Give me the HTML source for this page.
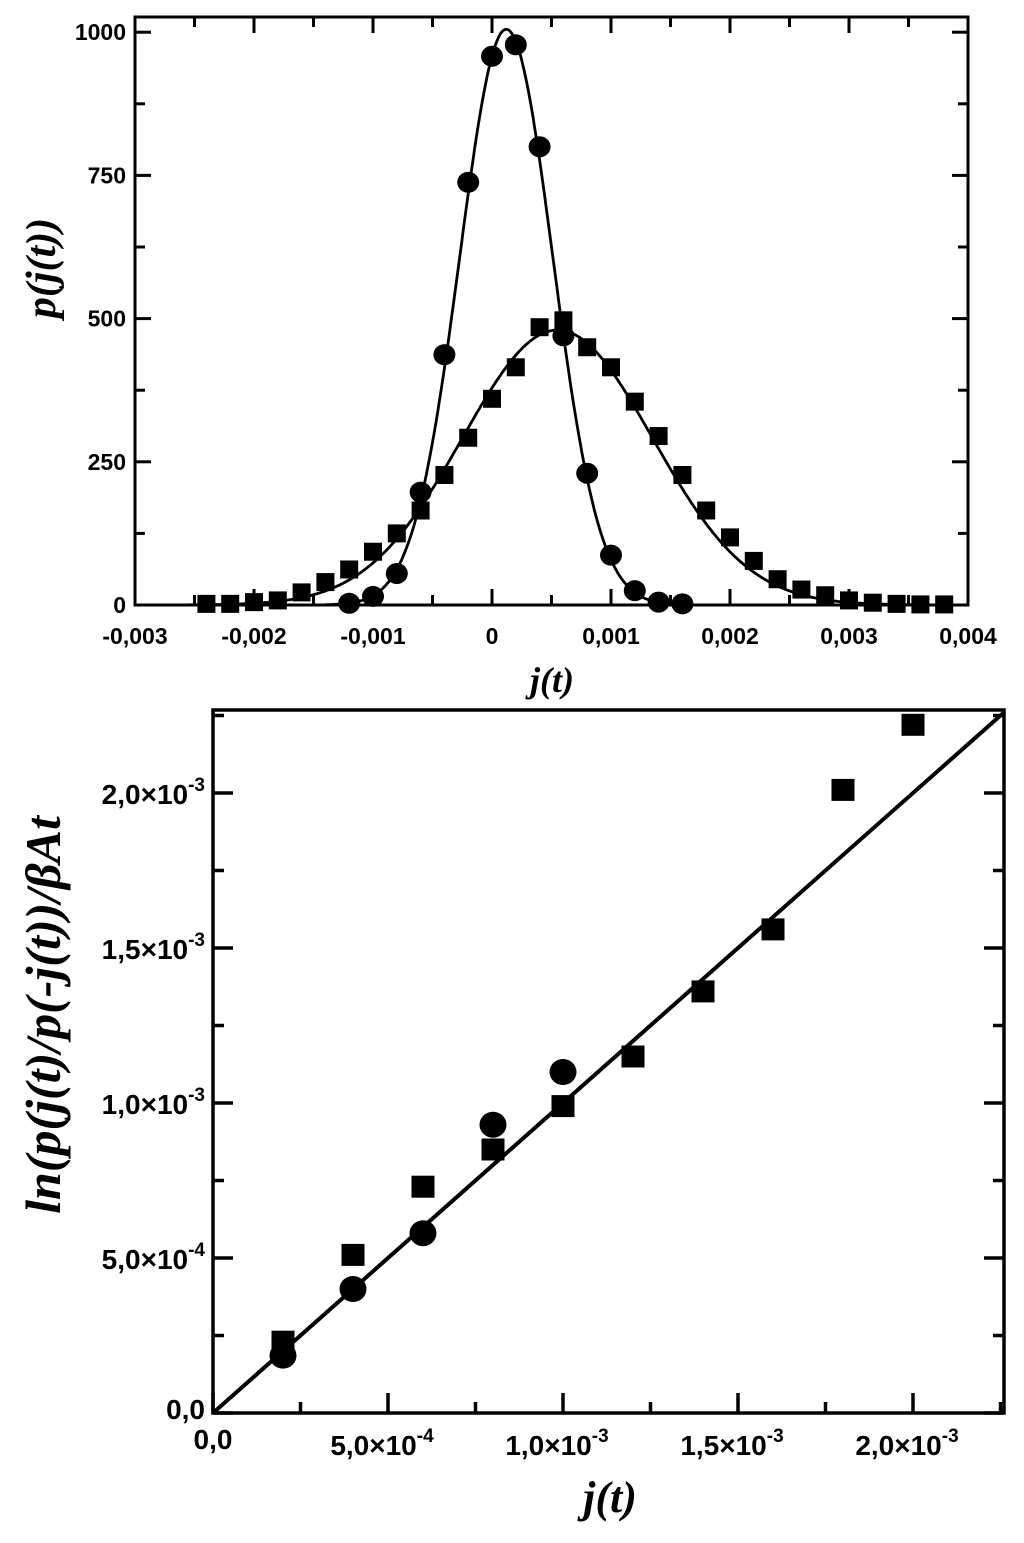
<!DOCTYPE html>
<html><head><meta charset="utf-8"><style>
body{margin:0;background:#fff;}
svg{display:block;}
text{fill:#000;}
.tk{font-family:"Liberation Sans",sans-serif;font-weight:bold;font-size:23px;}
.tk2{font-family:"Liberation Sans",sans-serif;font-weight:bold;font-size:28px;}
.lab{font-family:"Liberation Serif",serif;font-style:italic;font-weight:bold;}
</style></head><body>
<svg id="svg" width="1024" height="1543" xmlns="http://www.w3.org/2000/svg"></svg>
<script>
// Top chart data
const topCircX=[-0.0012,-0.001,-0.0008,-0.0006,-0.0004,-0.0002,0,0.0002,0.0004,0.0006,0.0008,0.001,0.0012,0.0014,0.0016];
const topCircY=[3,15,55,197,437,738,958,978,800,470,230,87,25,5,2];
const topSqX=[-0.0024,-0.0022,-0.002,-0.0018,-0.0016,-0.0014,-0.0012,-0.001,-0.0008,-0.0006,-0.0004,-0.0002,0,0.0002,0.0004,0.0006,0.0008,0.001,0.0012,0.0014,0.0016,0.0018,0.002,0.0022,0.0024,0.0026,0.0028,0.003,0.0032,0.0034,0.0036,0.0038];
const topSqY=[2,2,5,8,22,40,62,93,125,165,227,292,360,415,485,497,450,415,355,295,227,165,118,77,45,27,17,8,4,2,1,1];
const fitCirc=[1005,0.00012,0.00039];
const fitSq=[480,0.00055,0.00080];
const topXTicks=[-0.003,-0.002,-0.001,0,0.001,0.002,0.003,0.004];
const topXTickLabels=["-0,003","-0,002","-0,001","0","0,001","0,002","0,003","0,004"];
const topYTicks=[0,250,500,750,1000];
// Bottom chart data
const botCircX=[0.0002,0.0004,0.0006,0.0008,0.001];
const botCircY=[0.000185,0.0004,0.00058,0.00093,0.0011];
const botSqX=[0.0002,0.0004,0.0006,0.0008,0.001,0.0012,0.0014,0.0016,0.0018,0.002];
const botSqY=[0.00023,0.00051,0.00073,0.00085,0.00099,0.00115,0.00136,0.00156,0.00201,0.00222];
const botTicks=[0,0.0005,0.001,0.0015,0.002];
const botTickMant=["0,0","5,0","1,0","1,5","2,0"];
const botTickExp=["","-4","-3","-3","-3"];

const NS="http://www.w3.org/2000/svg";
const svg=document.getElementById('svg');
function el(tag,attrs,parent){const e=document.createElementNS(NS,tag);for(const k in attrs)e.setAttribute(k,attrs[k]);(parent||svg).appendChild(e);return e;}

// ---------- top chart ----------
const T={l:135,r:968,t:17,b:605};
const tx=v=>135+(v+0.003)/0.007*833;
const ty=v=>605-v*0.5728;
const g1=el('g',{});


for(let v=-0.003;v<=0.00401;v+=0.0005){const x=tx(v);const maj=Math.abs(v*1000-Math.round(v*1000))<1e-6;const L=maj?16:10;
 el('line',{x1:x,y1:T.b,x2:x,y2:T.b-L,stroke:'#000','stroke-width':3},g1);
 el('line',{x1:x,y1:T.t,x2:x,y2:T.t+L,stroke:'#000','stroke-width':3},g1);}
for(let v=0;v<=1000;v+=125){const y=ty(v);const L=(v%250===0)?16:10;
 el('line',{x1:T.l,y1:y,x2:T.l+L,y2:y,stroke:'#000','stroke-width':3},g1);
 el('line',{x1:T.r,y1:y,x2:T.r-L,y2:y,stroke:'#000','stroke-width':3},g1);}
topXTicks.forEach((v,i)=>{const t=el('text',{x:tx(v),y:644,'text-anchor':'middle',class:'tk'},g1);t.textContent=topXTickLabels[i];
 
 });
topYTicks.forEach(v=>{const t=el('text',{x:126,y:ty(v)+8,'text-anchor':'end',class:'tk'},g1);t.textContent=v;
 
 });
function gaussPath(p,x0,x1){let d='';for(let i=0;i<=400;i++){const x=x0+(x1-x0)*i/400;const y=p[0]*Math.exp(-Math.pow(x-p[1],2)/(2*p[2]*p[2]));d+=(i?'L':'M')+tx(x).toFixed(1)+' '+ty(y).toFixed(1);}return d;}
const f1=el('path',{d:gaussPath(fitCirc,-0.0014,0.0016),fill:'none',stroke:'#000','stroke-width':2.8},g1);


const f2=el('path',{d:gaussPath(fitSq,-0.0027,0.0039),fill:'none',stroke:'#000','stroke-width':2.8},g1);


topSqX.forEach((v,i)=>{const r=el('rect',{x:tx(v)-9,y:ty(topSqY[i])-9,width:18,height:18,fill:'#000'},g1);
 
 });
topCircX.forEach((v,i)=>{const c=el('ellipse',{cx:tx(v),cy:ty(topCircY[i]),rx:11,ry:10.5,fill:'#000'},g1);
 
 });
const fr1=el('rect',{x:T.l,y:T.t,width:T.r-T.l,height:T.b-T.t,fill:'none',stroke:'#000','stroke-width':3},g1);


const xl1=el('text',{x:552,y:692,'text-anchor':'middle',class:'lab','font-size':36},g1);xl1.textContent='j(t)';


const yl1=el('text',{x:0,y:0,'text-anchor':'middle',class:'lab','font-size':42,transform:'translate(55,268) rotate(-90)'},g1);yl1.textContent='p(j(t))';



// ---------- bottom chart ----------
const B={l:213,r:1004,t:710,b:1413};
const bx=v=>213+v*350000;
const by=v=>1413-v*310000;
const g2=el('g',{});


for(let k=0;k<=9;k++){const v=k*0.00025;const x=bx(v);const L=k%2===0?20:11;
 el('line',{x1:x,y1:B.b,x2:x,y2:B.b-L,stroke:'#000','stroke-width':3.5},g2);
 const y=by(v);el('line',{x1:B.l,y1:y,x2:B.l+L,y2:y,stroke:'#000','stroke-width':3.5},g2);
 el('line',{x1:B.r,y1:y,x2:B.r-L,y2:y,stroke:'#000','stroke-width':3.5},g2);}
botTicks.forEach((v,i)=>{
 const t=el('text',{x:bx(v)+(i?-6:0),y:1455,'text-anchor':'middle',class:'tk2'},g2);
 
 
 if(i===0){t.setAttribute('y',1449);t.textContent=botTickMant[i];}
 else{t.innerHTML=botTickMant[i]+'×10<tspan dy="-13" font-size="19">'+botTickExp[i]+'</tspan>';}
 const u=el('text',{x:B.l-8,y:by(v)+(i?11:6),'text-anchor':'end',class:'tk2'},g2);
 
 
 if(i===0)u.textContent=botTickMant[i];
 else u.innerHTML=botTickMant[i]+'×10<tspan dy="-13" font-size="19">'+botTickExp[i]+'</tspan>';
});
const ln=el('line',{x1:bx(0),y1:by(0),x2:bx(0.00226),y2:by(0.00226*1.0),stroke:'#000','stroke-width':4},g2);


botSqX.forEach((v,i)=>{const r=el('rect',{x:bx(v)-11.5,y:by(botSqY[i])-11,width:23,height:22,fill:'#000'},g2);
 
 });
botCircX.forEach((v,i)=>{const c=el('ellipse',{cx:bx(v),cy:by(botCircY[i]),rx:13.5,ry:13,fill:'#000'},g2);
 
 });
const fr2=el('rect',{x:B.l,y:B.t,width:B.r-B.l,height:B.b-B.t,fill:'none',stroke:'#000','stroke-width':3.5},g2);


const xl2=el('text',{x:610,y:1512,'text-anchor':'middle',class:'lab','font-size':44},g2);xl2.textContent='j(t)';


const yl2=el('text',{x:0,y:0,'text-anchor':'middle',class:'lab','font-size':50,transform:'translate(60,1015) rotate(-90)'},g2);yl2.textContent='ln(p(j(t)/p(-j(t))/βAt';


</script>
</body></html>
